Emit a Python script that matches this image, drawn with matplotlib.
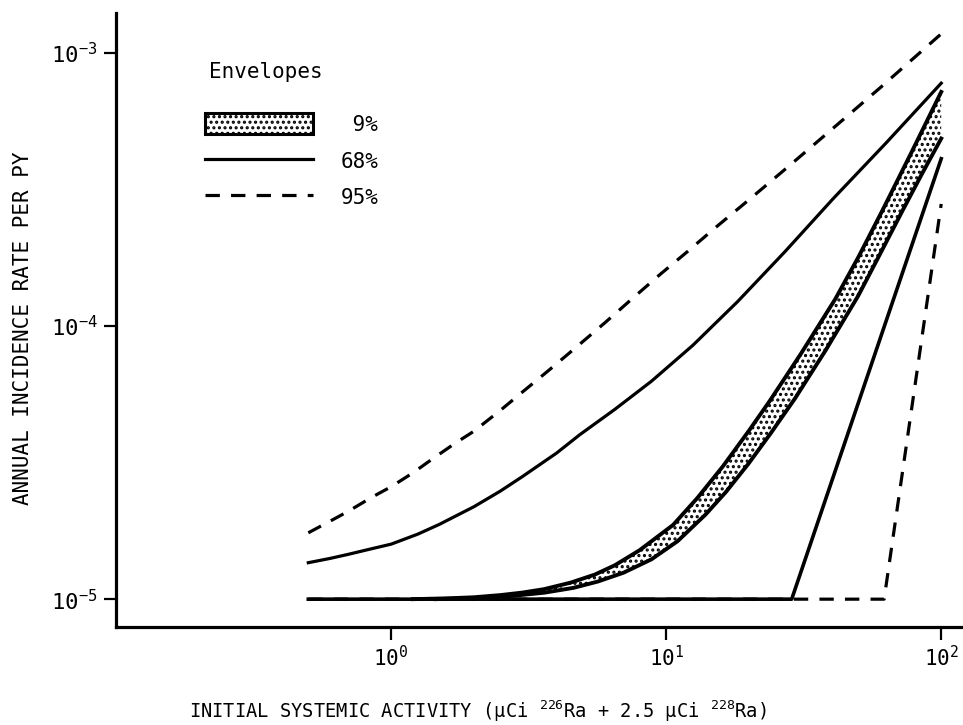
import matplotlib

matplotlib.use("Agg")
import matplotlib.pyplot as plt
import numpy as np
from matplotlib.lines import Line2D
from matplotlib.patches import Patch

plt.rcParams.update({
    "font.family": "DejaVu Sans Mono",
    "mathtext.fontset": "custom",
    "mathtext.rm": "DejaVu Sans Mono",
    "mathtext.it": "DejaVu Sans Mono",
    "mathtext.bf": "DejaVu Sans Mono",
    "hatch.linewidth": 1.5,
})

# 95% envelope, upper bound
upper95_x = [0.5, 0.6, 0.7, 0.85, 1.0, 1.2, 1.4, 1.7, 2.0, 2.5, 3.0, 3.7,
             4.6, 6.0, 7.5, 9.5, 12, 15, 20, 28, 40, 60, 100]
upper95_y = [1.75e-5, 1.93e-5, 2.10e-5, 2.36e-5, 2.58e-5, 2.90e-5, 3.24e-5,
             3.71e-5, 4.12e-5, 4.92e-5, 5.73e-5, 6.82e-5, 8.2e-5, 1.03e-4,
             1.256e-4, 1.545e-4, 1.88e-4, 2.28e-4, 2.90e-4, 3.86e-4,
             5.25e-4, 7.46e-4, 1.175e-3]

# 68% envelope, upper bound
upper68_x = [0.5, 0.6, 0.7, 0.85, 1.0, 1.25, 1.5, 2.0, 2.5, 3.0, 4.0, 4.85,
             6.5, 8.84, 12.5, 18.2, 27, 40.5, 63, 100]
upper68_y = [1.36e-5, 1.41e-5, 1.46e-5, 1.53e-5, 1.59e-5, 1.73e-5, 1.88e-5,
             2.18e-5, 2.49e-5, 2.81e-5, 3.43e-5, 4.0e-5, 4.95e-5, 6.28e-5,
             8.5e-5, 1.23e-4, 1.87e-4, 2.93e-4, 4.68e-4, 7.75e-4]

# 9% band, upper edge
band_hi_x = [1.2, 1.6, 2.0, 2.5, 3.0, 3.6, 4.5, 5.5, 6.5, 8.0, 10.6, 13,
             16.1, 20, 23.8, 31, 41.2, 50, 61, 78, 100]
band_hi_y = [1.0e-5, 1.007e-5, 1.016e-5, 1.035e-5, 1.057e-5, 1.088e-5,
             1.15e-5, 1.23e-5, 1.33e-5, 1.51e-5, 1.87e-5, 2.35e-5, 3.07e-5,
             4.14e-5, 5.32e-5, 7.96e-5, 1.256e-4, 1.79e-4, 2.64e-4,
             4.33e-4, 7.2e-4]

# 9% band, lower edge
band_lo_x = [1.45, 2.0, 2.7, 3.6, 4.6, 5.64, 7.0, 8.85, 11, 13.9, 16.5,
             19.9, 24, 29.4, 38, 49.9, 60, 72.1, 85, 100]
band_lo_y = [1.0e-5, 1.009e-5, 1.026e-5, 1.056e-5, 1.10e-5, 1.16e-5,
             1.25e-5, 1.40e-5, 1.63e-5, 2.04e-5, 2.47e-5, 3.13e-5, 4.05e-5,
             5.43e-5, 8.15e-5, 1.29e-4, 1.84e-4, 2.63e-4, 3.6e-4, 4.86e-4]

# 68% envelope, lower bound (floor then rise)
lower68_x = [0.5, 28.6, 100]
lower68_y = [1.0e-5, 1.0e-5, 4.1e-4]

# 95% envelope, lower bound
lower95_x = [0.5, 62, 100]
lower95_y = [1.0e-5, 1.0e-5, 2.8e-4]

x_ticks = [1, 10, 100]
x_ticklabels = [r"$10^{0}$", r"$10^{1}$", r"$10^{2}$"]
y_ticks = [1e-5, 1e-4, 1e-3]
y_ticklabels = [r"$10^{-5}$", r"$10^{-4}$", r"$10^{-3}$"]

DASH = (0, (4.5, 3.5))
LW = 2.3

fig = plt.figure(figsize=(9.63, 7.25), dpi=100)
ax = fig.add_axes([0.1205, 0.135, 0.8795, 0.847])
ax.set_xscale("log")
ax.set_yscale("log")

band_x = np.concatenate([band_hi_x, band_lo_x[::-1]])
band_y = np.concatenate([band_hi_y, band_lo_y[::-1]])
ax.fill(band_x, band_y, facecolor="white", edgecolor="black",
        hatch="...", linewidth=0, zorder=1)
ax.plot(band_hi_x, band_hi_y, color="black", lw=2.8, zorder=3)
ax.plot(band_lo_x, band_lo_y, color="black", lw=2.8, zorder=3)

ax.plot(upper95_x, upper95_y, color="black", lw=LW, linestyle=DASH, zorder=2)
ax.plot(lower95_x, lower95_y, color="black", lw=LW, linestyle=DASH, zorder=2)
ax.plot(upper68_x, upper68_y, color="black", lw=LW, zorder=3)
ax.plot(lower68_x, lower68_y, color="black", lw=2.6, zorder=3)

ax.set_xlim(0.1, 120)
ax.set_ylim(7.9e-6, 1.4e-3)

for side in ("top", "right"):
    ax.spines[side].set_visible(False)
for side in ("left", "bottom"):
    ax.spines[side].set_linewidth(2.3)

ax.set_xticks(x_ticks)
ax.set_xticklabels(x_ticklabels)
ax.set_yticks(y_ticks)
ax.set_yticklabels(y_ticklabels)
ax.minorticks_off()
ax.tick_params(axis="both", direction="out", length=9, width=1.6, pad=4)
ax.tick_params(axis="x", labelsize=15)
ax.tick_params(axis="y", labelsize=16)

ax.set_xlabel(r"INITIAL SYSTEMIC ACTIVITY (µCi $^{226}$Ra + 2.5 µCi $^{228}$Ra)",
              fontsize=13.5, va="center")
ax.xaxis.set_label_coords(0.427, -0.137)
ax.set_ylabel("ANNUAL INCIDENCE RATE PER PY", fontsize=15, va="center")
ax.yaxis.set_label_coords(-0.11, 0.487)

ax.text(0.11, 0.904, "Envelopes", transform=ax.transAxes,
        ha="left", va="center", fontsize=15)
handles = [
    Patch(facecolor="white", edgecolor="black", hatch="...", linewidth=2.2),
    Line2D([], [], color="black", lw=LW),
    Line2D([], [], color="black", lw=LW, linestyle=DASH),
]
ax.legend(handles, [" 9%", "68%", "95%"],
          loc="upper left", bbox_to_anchor=(0.105, 0.837),
          frameon=False, borderpad=0, borderaxespad=0, fontsize=15,
          handlelength=5.2, handleheight=1.2, handletextpad=1.3,
          labelspacing=0.72)

fig.savefig("out.png", dpi=100)
